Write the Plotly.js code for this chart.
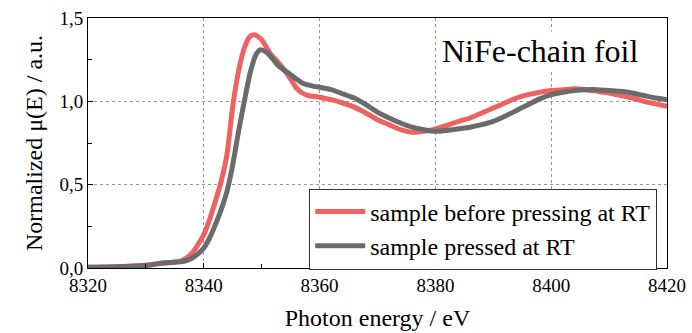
<!DOCTYPE html>
<html>
<head>
<meta charset="utf-8">
<script src="https://cdn.plot.ly/plotly-3.0.1.min.js"></script>
<style>html,body{margin:0;padding:0;background:#fff;}#chart{width:692px;height:333px;}</style>
</head>
<body>
<div id="chart"></div>
<script>
// Photon energy (eV) and normalized mu(E)
const energyBefore = [8320,8325,8329,8331,8333,8335,8336,8337,8338,8339,8340,8341,8342,8343,8344,8345,8346,8347,8348,8348.8,8350,8351.4,8353.2,8354.9,8356,8357,8358,8360,8362,8364,8366,8368,8370,8372,8374,8376,8378,8380,8382,8384,8386,8388,8390,8392,8394,8396,8398,8400,8402,8404,8406,8408,8410,8412,8414,8416,8418,8420];
const muBefore = [0.005,0.008,0.014,0.02,0.03,0.036,0.042,0.06,0.09,0.14,0.20,0.29,0.40,0.52,0.68,0.97,1.18,1.32,1.39,1.40,1.37,1.29,1.22,1.14,1.08,1.05,1.035,1.025,1.01,0.99,0.965,0.93,0.89,0.86,0.83,0.815,0.82,0.835,0.855,0.88,0.90,0.93,0.96,0.99,1.02,1.04,1.055,1.065,1.07,1.075,1.07,1.06,1.05,1.035,1.02,1.0,0.985,0.97];
const energyPressed = [8320,8325,8329,8331,8333,8335,8336,8337,8338,8339,8340,8341,8342,8343,8344,8345,8346,8347,8348,8349,8349.8,8351,8352,8353,8355,8357,8359,8360,8362,8364,8366,8368,8370,8372,8374,8376,8378,8380,8382,8384,8386,8388,8390,8392,8394,8396,8398,8400,8402,8404,8406,8408,8410,8412,8414,8416,8418,8420];
const muPressed = [0.005,0.008,0.014,0.02,0.03,0.035,0.038,0.045,0.06,0.085,0.12,0.18,0.26,0.35,0.46,0.62,0.82,1.0,1.17,1.28,1.31,1.29,1.25,1.21,1.16,1.11,1.09,1.085,1.07,1.045,1.02,0.98,0.935,0.90,0.87,0.845,0.83,0.82,0.825,0.835,0.845,0.86,0.88,0.91,0.945,0.98,1.015,1.04,1.055,1.065,1.07,1.07,1.065,1.06,1.05,1.035,1.02,1.01];
const seriesNames = ['sample before pressing at RT','sample pressed at RT'];
const xTickVals = [8320,8340,8360,8380,8400,8420];
const xTickText = ['8320','8340','8360','8380','8400','8420'];
const yTickVals = [0,0.5,1.0,1.5];
const yTickText = ['0,0','0,5','1,0','1,5'];
const panelLabel = 'NiFe-chain foil';

const FAM = 'Liberation Serif';
const traces = [
  {x: energyBefore, y: muBefore, name: seriesNames[0], type: 'scatter', mode: 'lines',
   line: {color: '#EE6262', width: 5, shape: 'spline', smoothing: 0.6}},
  {x: energyPressed, y: muPressed, name: seriesNames[1], type: 'scatter', mode: 'lines',
   line: {color: '#6B6B6B', width: 5, shape: 'spline', smoothing: 0.6}}
];
function axisBase() {
  return {
    showline: true, linecolor: '#000', linewidth: 1, mirror: true,
    ticks: 'inside', ticklen: 5, tickcolor: '#000', tickwidth: 1,
    showgrid: true, gridcolor: '#999', griddash: '3px,3px', gridwidth: 1,
    zeroline: false, tickfont: {family: FAM, size: 19, color: '#000'}
  };
}
const xaxis = axisBase();
Object.assign(xaxis, {
  range: [8320, 8420], tickmode: 'array', tickvals: xTickVals, ticktext: xTickText,
  minor: {tickmode: 'linear', tick0: 8330, dtick: 20, ticks: 'inside', ticklen: 4, tickcolor: '#000', showgrid: false},
  title: {text: 'Photon energy / eV', font: {family: FAM, size: 24, color: '#000'}, standoff: 14}
});
const yaxis = axisBase();
Object.assign(yaxis, {
  range: [0, 1.5], tickmode: 'array', tickvals: yTickVals, ticktext: yTickText,
  minor: {tickmode: 'linear', tick0: 0.25, dtick: 0.5, ticks: 'inside', ticklen: 4, tickcolor: '#000', showgrid: false},
  title: {text: 'Normalized μ(E) / a.u.', font: {family: FAM, size: 24, color: '#000'}, standoff: 10}
});
const layout = {
  width: 692, height: 333,
  margin: {l: 88, r: 25, t: 18, b: 65},
  paper_bgcolor: '#fff', plot_bgcolor: '#fff',
  font: {family: FAM, color: '#000'},
  xaxis: xaxis,
  yaxis: yaxis,
  legend: {
    x: 0.382, y: 0.318, xanchor: 'left', yanchor: 'top',
    bgcolor: '#fff', bordercolor: '#333', borderwidth: 1,
    font: {family: FAM, size: 24, color: '#000'}, itemwidth: 50
  },
  annotations: [{
    text: panelLabel, xref: 'paper', yref: 'paper', x: 0.955, y: 0.95,
    xanchor: 'right', yanchor: 'top', showarrow: false, bgcolor: '#fff',
    font: {family: FAM, size: 32, color: '#000'}
  }]
};
Plotly.newPlot('chart', traces, layout, {displayModeBar: false});
</script>
</body>
</html>
